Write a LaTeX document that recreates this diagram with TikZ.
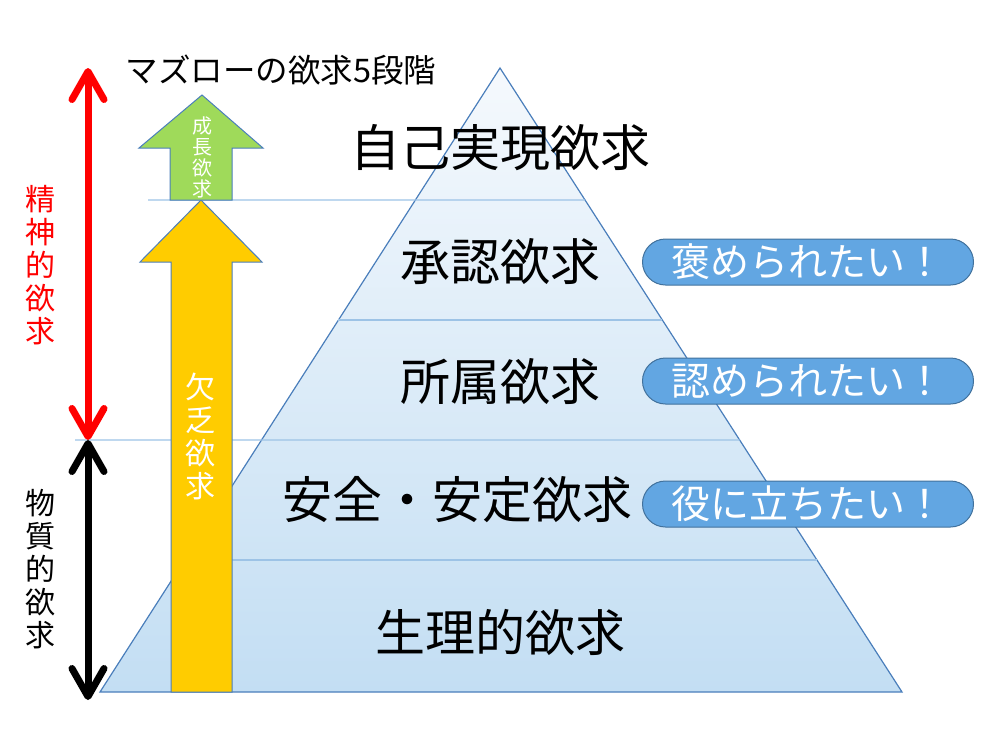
\documentclass[tikz,border=0pt]{standalone}
\usepackage{fontspec}
\setmainfont{Noto Sans CJK JP}
\usetikzlibrary{arrows.meta}
\usetikzlibrary{calc}
\definecolor{edgeblue}{HTML}{4A7EBB}
\definecolor{levelcol}{HTML}{9DC3E6}
\definecolor{pillcol}{HTML}{62A6E2}
\definecolor{pillline}{HTML}{41719C}
\definecolor{growcol}{HTML}{9FDA5A}
\definecolor{lackcol}{HTML}{FFCC00}
\definecolor{pyrtop}{HTML}{F5F9FD}
\definecolor{pyrbot}{HTML}{C3DEF3}
\tikzstyle{pyramid}=[top color=pyrtop,bottom color=pyrbot,shading angle=0]
\tikzset{
  level line/.style={levelcol,line width=1.3pt},
  block arrow/.style={draw=edgeblue,line width=1pt,line join=miter},
  need/.style={font=\fontsize{50}{52}\selectfont},
  pill/.style={draw=pillline,fill=pillcol,line width=1pt,rounded corners=23pt,
               minimum width=331pt,minimum height=46pt,inner sep=0pt,
               text=white,font=\fontsize{39}{41}\selectfont},
  vtext/.style={align=center,inner sep=0pt,font=\fontsize{30}{33}\selectfont},
  span arrow/.style={line width=7pt,
               {Straight Barb[round,length=28pt,width=32pt]}-{Straight Barb[round,length=28pt,width=32pt]}}
}
\begin{document}
\begin{tikzpicture}[x=1pt,y=-1pt]
  \useasboundingbox (0,0) rectangle (1000,750);
  \coordinate (apex) at (500,68);   % top of pyramid
  \coordinate (bl) at (100,692);    % bottom left corner
  \coordinate (br) at (902,692);    % bottom right corner
  \coordinate (mindTop) at (88,68);   % top of red span
  \coordinate (mindBody) at (88,440); % border red / black span
  \coordinate (bodyBot) at (88,700);  % bottom of black span

  % PYRAMID
  \shade[pyramid] (apex) -- (bl) -- (br) -- cycle;
  \draw[edgeblue,line width=1.2pt] (apex) -- (bl) -- (br) -- cycle;

  % LEVELS
  \draw[level line] (148,200) -- (intersection of apex--br and 0,200--1000,200);
  \draw[level line] (intersection of apex--bl and 0,320--1000,320)
                 -- (intersection of apex--br and 0,320--1000,320);
  \draw[level line] (75,440) -- (intersection of apex--br and 0,440--1000,440);
  \draw[level line] (intersection of apex--bl and 0,560--1000,560)
                 -- (intersection of apex--br and 0,560--1000,560);

  % BLOCK ARROWS
  \draw[block arrow,fill=lackcol] (201,200) -- (140,262) -- (171,262) -- (171,692)
        -- (232,692) -- (232,262) -- (262,262) -- cycle; % deficiency needs
  \draw[block arrow,fill=growcol] (202,95) -- (139,148) -- (170,148) -- (170,200)
        -- (232,200) -- (232,148) -- (263,148) -- cycle; % growth needs
  \node[vtext,text=white] (lack) at (200,436) {欠\\乏\\欲\\求};
  \node[vtext,text=white,font=\fontsize{20}{21}\selectfont] (grow) at (202,157) {成\\長\\欲\\求};

  % LABELS
  \node[font=\fontsize{32.5}{34}\selectfont] (title) at (281,70) {マズローの欲求5段階};
  \node[need] (self) at (500,148) {自己実現欲求};
  \node[need] (esteem) at (500,262) {承認欲求};
  \node[need] (belong) at (500,382) {所属欲求};
  \node[need] (safety) at (457,500) {安全・安定欲求};
  \node[need] (body) at (500,632) {生理的欲求};

  % PILLS
  \node[pill] (praise) at (808,262) {褒められたい！};
  \node[pill] (accept) at (808,381) {認められたい！};
  \node[pill] (useful) at (808,504) {役に立ちたい！};

  % SPANS
  \draw[span arrow,red] (mindBody) -- (mindTop);
  \draw[span arrow,black] (bodyBot) -- (mindBody);
  \node[vtext,text=red] (mind) at (40,265) {精\\神\\的\\欲\\求};
  \node[vtext] (matter) at (40,569) {物\\質\\的\\欲\\求};
\end{tikzpicture}
\end{document}
